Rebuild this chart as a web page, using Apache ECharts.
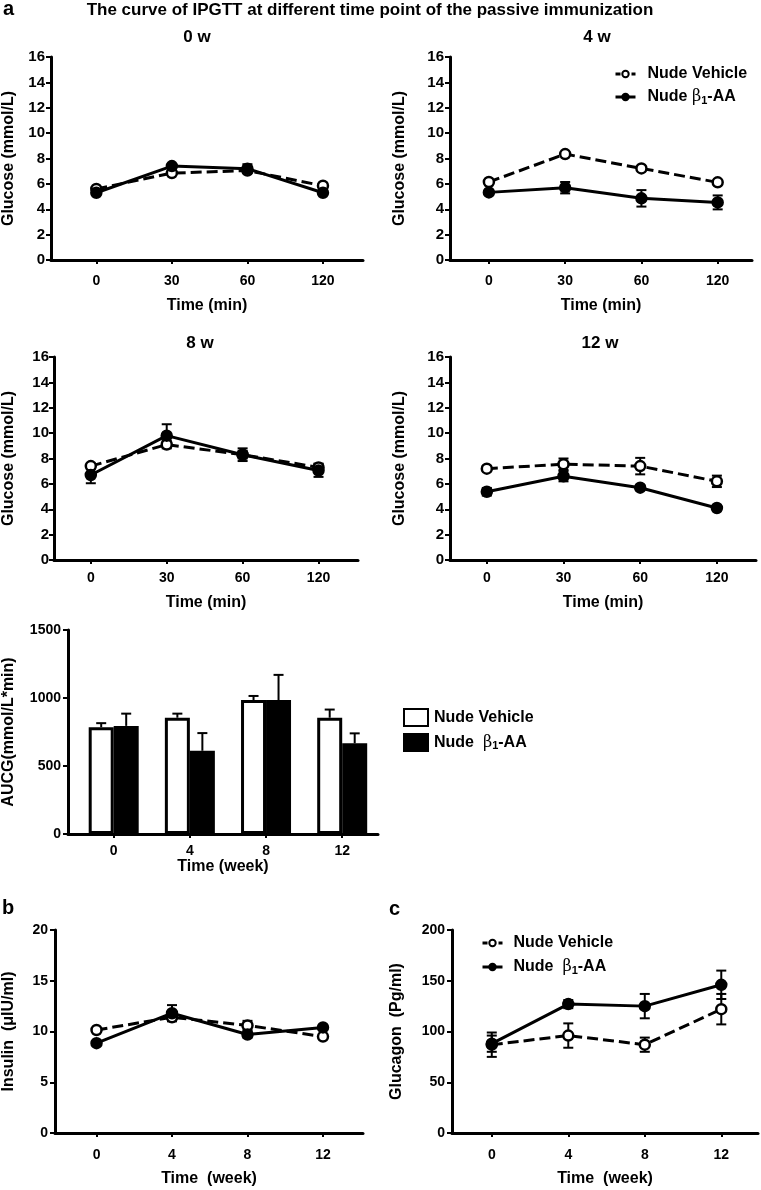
<!DOCTYPE html>
<html><head><meta charset="utf-8">
<script src="https://cdn.jsdelivr.net/npm/echarts@6/dist/echarts.min.js"></script>
<style>html,body{margin:0;padding:0;background:#fff}#c{width:761px;height:1190px}</style>
</head><body><div id="c"></div><script>
// ---------- data ----------
const glucoseTimeLabels = ['0', '30', '60', '120'];
const weekLabels = ['0', '4', '8', '12'];

const g0Vehicle = [5.6, 6.85, 7.05, 5.85];   const g0VehicleErr = [0.15, 0.15, 0.15, 0.15];
const g0Beta    = [5.3, 7.4, 7.2, 5.3];      const g0BetaErr    = [0.15, 0.15, 0.35, 0.15];
const g4Vehicle = [6.15, 8.35, 7.22, 6.12];  const g4VehicleErr = [0.15, 0.15, 0.15, 0.15];
const g4Beta    = [5.33, 5.7, 4.86, 4.54];   const g4BetaErr    = [0.15, 0.45, 0.65, 0.55];
const g8Vehicle = [7.4, 9.1, 8.3, 7.3];      const g8VehicleErr = [0.2, 0.3, 0.3, 0.3];
const g8Beta    = [6.7, 9.8, 8.3, 7.05];     const g8BetaErr    = [0.65, 0.9, 0.5, 0.5];
const g12Vehicle = [7.2, 7.55, 7.4, 6.2];    const g12VehicleErr = [0.2, 0.45, 0.65, 0.45];
const g12Beta    = [5.38, 6.6, 5.7, 4.1];    const g12BetaErr    = [0.3, 0.4, 0.2, 0.2];

const aucgVehicle = [785, 855, 985, 855];    const aucgVehicleErr = [30, 30, 30, 60];
const aucgBeta    = [795, 612, 985, 667];    const aucgBetaErr    = [90, 130, 185, 73];

const insulinVehicle = [10.15, 11.4, 10.6, 9.5]; const insulinVehicleErr = [0.2, 0.3, 0.45, 0.2];
const insulinBeta    = [8.85, 11.8, 9.7, 10.4];  const insulinBetaErr    = [0.15, 0.8, 0.3, 0.15];

const glucagonVehicle = [87, 96, 87, 122];   const glucagonVehicleErr = [12, 12, 7, 15];
const glucagonBeta    = [88, 127, 125, 146]; const glucagonBetaErr    = [8, 4, 12, 14];

const NAME_V = 'Nude Vehicle';
const NAME_B = 'Nude β1-AA';
const BAR_V = 'AUCG Nude Vehicle';
const BAR_B = 'AUCG Nude β1-AA';

// ---------- helpers ----------
const FONT = "'Liberation Sans', Arial, sans-serif";
const BLACK = '#000';
const lab = {fontFamily: FONT, fontWeight: 'bold', color: BLACK};

function xAxis(gi, min, max, labels, name, margin, nameGap) {
  return {
    gridIndex: gi, type: 'value', min: min, max: max,
    axisLine: {show: true, onZero: false, lineStyle: {color: BLACK, width: 3}},
    axisTick: {show: true, customValues: [0, 1, 2, 3], length: 4, lineStyle: {color: BLACK, width: 2}},
    axisLabel: Object.assign({customValues: [0, 1, 2, 3], fontSize: 14, margin: margin,
      formatter: v => labels[Math.round(v)]}, lab),
    splitLine: {show: false},
    name: name, nameLocation: 'middle', nameGap: nameGap,
    nameTextStyle: Object.assign({fontSize: 16}, lab)
  };
}
function yAxis(gi, max, interval, name, nameGap, margin, fs) {
  return {
    gridIndex: gi, type: 'value', min: 0, max: max, interval: interval,
    axisLine: {show: true, onZero: false, lineStyle: {color: BLACK, width: 3}},
    axisTick: {show: true, length: 5, lineStyle: {color: BLACK, width: 2}},
    axisLabel: Object.assign({fontSize: fs, margin: margin, formatter: v => String(v)}, lab),
    splitLine: {show: false},
    name: name, nameLocation: 'middle', nameRotate: 90, nameGap: nameGap,
    nameTextStyle: Object.assign({fontSize: 16}, lab)
  };
}
function lineSeries(i, name, vals, open) {
  return {
    type: 'line', name: name, xAxisIndex: i, yAxisIndex: i,
    data: vals.map((v, k) => [k, v]),
    symbol: 'circle', symbolSize: 10, z: 5,
    lineStyle: {color: BLACK, width: 3, type: open ? [11, 5] : 'solid'},
    itemStyle: {color: open ? '#fff' : BLACK, borderColor: BLACK, borderWidth: 2.5},
    emphasis: {disabled: true}
  };
}
function errSeries(i, vals, errs, upOnly, dx) {
  return {
    type: 'custom', xAxisIndex: i, yAxisIndex: i, silent: true, z: 4,
    data: vals.map((v, k) => [k, v, errs[k]]),
    renderItem: function (params, api) {
      const x = api.value(0), m = api.value(1), e = api.value(2);
      const top = api.coord([x, m + e]);
      const bot = api.coord([x, upOnly ? m : m - e]);
      const cx = top[0] + dx;
      const st = {stroke: BLACK, lineWidth: 2};
      const ch = [
        {type: 'line', shape: {x1: cx, y1: top[1], x2: cx, y2: bot[1]}, style: st},
        {type: 'line', shape: {x1: cx - 5, y1: top[1], x2: cx + 5, y2: top[1]}, style: st}
      ];
      if (!upOnly) ch.push({type: 'line', shape: {x1: cx - 5, y1: bot[1], x2: cx + 5, y2: bot[1]}, style: st});
      return {type: 'group', children: ch};
    }
  };
}

// ---------- panels ----------
const grids = [
  {left: 49, top: 57, width: 314, height: 203},   // 0 w
  {left: 450, top: 57, width: 302, height: 203},  // 4 w
  {left: 52, top: 357, width: 306, height: 203},  // 8 w
  {left: 450, top: 357, width: 306, height: 203}, // 12 w
  {left: 66, top: 630, width: 312, height: 204},  // AUCG
  {left: 53, top: 930, width: 310, height: 203},  // insulin
  {left: 452, top: 930, width: 306, height: 203}  // glucagon
];
const xAxes = [
  xAxis(0, -0.6, 3.53, glucoseTimeLabels, 'Time (min)', 14, 38),
  xAxis(1, -0.51, 3.45, glucoseTimeLabels, 'Time (min)', 14, 38),
  xAxis(2, -0.485, 3.52, glucoseTimeLabels, 'Time (min)', 11, 35),
  xAxis(3, -0.48, 3.51, glucoseTimeLabels, 'Time (min)', 11, 35),
  xAxis(4, -0.6, 3.47, weekLabels, 'Time (week)', 10, 24),
  xAxis(5, -0.55, 3.53, weekLabels, 'Time  (week)', 15, 38),
  xAxis(6, -0.52, 3.48, weekLabels, 'Time  (week)', 15, 38)
];
const yAxes = [
  yAxis(0, 16, 2, 'Glucose (mmol/L)', 34, 6, 15),
  yAxis(1, 16, 2, 'Glucose (mmol/L)', 42, 6, 15),
  yAxis(2, 16, 2, 'Glucose (mmol/L)', 37, 5, 15),
  yAxis(3, 16, 2, 'Glucose (mmol/L)', 42, 6, 15),
  yAxis(4, 1500, 500, 'AUCG(mmol/L*min)', 51, 7, 14),
  yAxis(5, 20, 5, 'Insulin  (μIU/ml)', 38, 7, 14),
  yAxis(6, 200, 50, 'Glucagon  (Pg/ml)', 47, 7, 14)
];

const series = [];
const lineSets = [
  [g0Vehicle, g0VehicleErr, g0Beta, g0BetaErr],
  [g4Vehicle, g4VehicleErr, g4Beta, g4BetaErr],
  [g8Vehicle, g8VehicleErr, g8Beta, g8BetaErr],
  [g12Vehicle, g12VehicleErr, g12Beta, g12BetaErr]
];
lineSets.forEach((s, i) => {
  series.push(lineSeries(i, NAME_V, s[0], true));
  series.push(lineSeries(i, NAME_B, s[2], false));
  series.push(errSeries(i, s[0], s[1], false, 0));
  series.push(errSeries(i, s[2], s[3], false, 0));
});
// AUCG bars
const BAR_W = 25;
series.push({type: 'bar', name: BAR_V, xAxisIndex: 4, yAxisIndex: 4, barWidth: BAR_W, barGap: '0%',
  data: aucgVehicle.map((v, k) => [k, v]), z: 2,
  itemStyle: {color: '#fff', borderColor: BLACK, borderWidth: 3}, emphasis: {disabled: true}});
series.push({type: 'bar', name: BAR_B, xAxisIndex: 4, yAxisIndex: 4, barWidth: BAR_W, barGap: '0%',
  data: aucgBeta.map((v, k) => [k, v]), z: 2,
  itemStyle: {color: BLACK, borderColor: BLACK, borderWidth: 3}, emphasis: {disabled: true}});
series.push(errSeries(4, aucgVehicle, aucgVehicleErr, true, -BAR_W / 2));
series.push(errSeries(4, aucgBeta, aucgBetaErr, true, BAR_W / 2));
// insulin
series.push(lineSeries(5, NAME_V, insulinVehicle, true));
series.push(lineSeries(5, NAME_B, insulinBeta, false));
series.push(errSeries(5, insulinVehicle, insulinVehicleErr, false, 0));
series.push(errSeries(5, insulinBeta, insulinBetaErr, false, 0));
// glucagon
series.push(lineSeries(6, NAME_V, glucagonVehicle, true));
series.push(lineSeries(6, NAME_B, glucagonBeta, false));
series.push(errSeries(6, glucagonVehicle, glucagonVehicleErr, false, 0));
series.push(errSeries(6, glucagonBeta, glucagonBetaErr, false, 0));

const rich = {
  t: {fontFamily: FONT, fontWeight: 'bold', fontSize: 16, color: BLACK, lineHeight: 18},
  g: {fontFamily: "'DejaVu Serif', serif", fontWeight: 'normal', fontSize: 16, color: BLACK, lineHeight: 18},
  s: {fontFamily: FONT, fontWeight: 'bold', fontSize: 11, color: BLACK, lineHeight: 18, verticalAlign: 'bottom', padding: [6, 0, 0, 0]}
};
function legendFmt(sp) {
  return function (n) {
    if (n.indexOf('Vehicle') >= 0) return '{t|Nude Vehicle}';
    return '{t|Nude' + sp + '}{g|β}{s|1}{t|-AA}';
  };
}
const lineLegendData = [
  {name: NAME_V, lineStyle: {type: [5, 3], width: 3}},
  {name: NAME_B, lineStyle: {type: 'solid', width: 3}}
];
const legends = [
  {data: lineLegendData, orient: 'vertical', left: 609, top: 61, itemWidth: 20, itemHeight: 8, itemGap: 7,
   selectedMode: false, formatter: legendFmt(' '), textStyle: {rich: rich, padding: [0, 0, 0, 7]}},
  {data: lineLegendData, orient: 'vertical', left: 476, top: 930, itemWidth: 20, itemHeight: 8, itemGap: 8,
   selectedMode: false, formatter: legendFmt('  '), textStyle: {rich: rich, padding: [0, 0, 0, 6]}},
  {data: [{name: BAR_V, icon: 'rect'}, {name: BAR_B, icon: 'rect'}], orient: 'vertical', left: 398, top: 703,
   itemWidth: 24, itemHeight: 17, itemGap: 6, selectedMode: false, formatter: legendFmt('  '),
   textStyle: {rich: rich, padding: [0, 0, 0, 1]}}
];

function txt(s, x, y, size, align) {
  return {type: 'text', x: x, y: y, silent: true,
    style: {text: s, fontFamily: FONT, fontWeight: 'bold', fontSize: size, fill: BLACK,
      textAlign: align || 'center', textVerticalAlign: 'middle'}};
}
const graphics = [
  txt('a', 3, 9, 20, 'left'),
  txt('The curve of IPGTT at different time point of the passive immunization', 370, 10, 17),
  txt('0 w', 197, 37, 17),
  txt('4 w', 597, 37, 17),
  txt('8 w', 200, 343, 17),
  txt('12 w', 600, 343, 17),
  txt('b', 2, 908, 20, 'left'),
  txt('c', 389, 909, 20, 'left')
];

const chart = echarts.init(document.getElementById('c'), null, {renderer: 'canvas'});
chart.setOption({
  animation: false,
  backgroundColor: '#fff',
  grid: grids, xAxis: xAxes, yAxis: yAxes, series: series,
  legend: legends, graphic: graphics
});
</script></body></html>
